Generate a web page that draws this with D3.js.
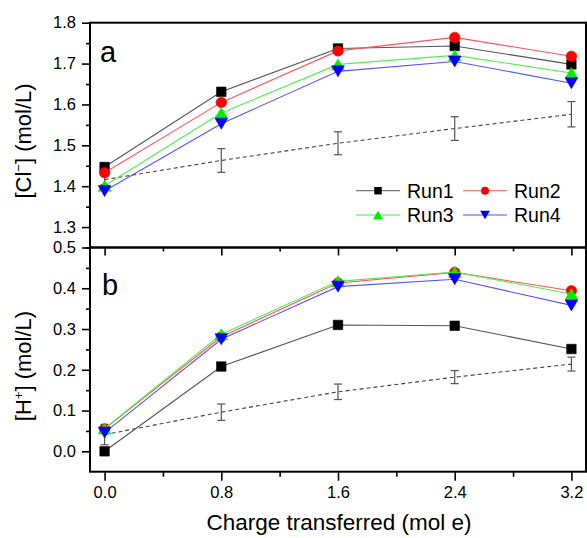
<!DOCTYPE html>
<html>
<head>
<meta charset="utf-8">
<script src="https://cdn.jsdelivr.net/npm/d3@7"></script>
<style>
  html, body { margin: 0; padding: 0; background: #fff; }
  svg { display: block; font-family: Arial, "Liberation Sans", sans-serif; }
</style>
</head>
<body>
<svg id="chart" width="587" height="538"></svg>
<script>
// Charge transferred (mol e) at each sampling point
const charge = [0, 0.8, 1.6, 2.4, 3.2];
const xTicks = [0, 0.8, 1.6, 2.4, 3.2];
const xMinorTicks = [0.4, 1.2, 2.0, 2.8];

// Panel a: chloride concentration (mol/L)
const clRun1 = [1.447, 1.631, 1.737, 1.743, 1.698];
const clRun2 = [1.433, 1.605, 1.731, 1.764, 1.718];
const clRun3 = [1.401, 1.579, 1.698, 1.720, 1.677];
const clRun4 = [1.388, 1.553, 1.681, 1.705, 1.652];
const clMean = [1.416, 1.463, 1.505, 1.541, 1.576];
const clErr  = [0.012, 0.029, 0.028, 0.029, 0.031];
const clTicks = [1.3, 1.4, 1.5, 1.6, 1.7, 1.8];
const clMinor = [1.25, 1.35, 1.45, 1.55, 1.65, 1.75];

// Panel b: proton concentration (mol/L)
const hRun1 = [0.000, 0.208, 0.310, 0.308, 0.251];
const hRun2 = [0.055, 0.281, 0.413, 0.439, 0.394];
const hRun3 = [0.056, 0.287, 0.417, 0.440, 0.386];
const hRun4 = [0.046, 0.275, 0.404, 0.422, 0.358];
const hMean = [0.041, 0.096, 0.146, 0.182, 0.214];
const hErr  = [0.025, 0.020, 0.019, 0.016, 0.017];
const hTicks = [0.0, 0.1, 0.2, 0.3, 0.4, 0.5];
const hMinor = [0.05, 0.15, 0.25, 0.35, 0.45];

const runNames = ["Run1", "Run2", "Run3", "Run4"];
const runColors = ["#000000", "#ff0000", "#00ee00", "#0000ff"];
const lineColors = ["#555555", "#ff5555", "#55ee55", "#5555ff"];
const legendLineColors = ["#777777", "#ff8080", "#88ee88", "#8888ff"];
const runShapes = ["square", "circle", "up", "down"];

const svg = d3.select("#chart");
const left = 90, right = 586, topA = 22.7, mid = 247.5, bottom = 471.7;

const x = d3.scaleLinear().domain([-0.1, 3.3]).range([left, right]);
const yA = d3.scaleLinear().domain([1.25, 1.8]).range([mid, topA]);
const yB = d3.scaleLinear().domain([-0.05, 0.5]).range([bottom, mid]);

function markerPath(shape, s) {
  if (shape === "square") return d3.symbol(d3.symbolSquare, s * s)();
  if (shape === "circle") return d3.symbol(d3.symbolCircle, Math.PI * (s / 2) * (s / 2))();
  const w = s * 1.15, h = s * 1.0;
  if (shape === "up") return `M0,${-h / 2}L${w / 2},${h / 2}L${-w / 2},${h / 2}Z`;
  return `M0,${h / 2}L${w / 2},${-h / 2}L${-w / 2},${-h / 2}Z`;
}
const markerSize = { square: 9.5, circle: 10.5, up: 11, down: 11 };

function drawPanel(y, runs, mean, err) {
  const g = svg.append("g");
  const line = d3.line().x((d, i) => x(charge[i])).y(d => y(d));

  // averaged trend with error bars
  g.append("path").datum(mean).attr("d", line)
    .attr("fill", "none").attr("stroke", "#444").attr("stroke-width", 1.1)
    .attr("stroke-dasharray", "4,3");
  const eb = g.append("g").attr("stroke", "#555").attr("stroke-width", 1.2).attr("fill", "none");
  mean.forEach((m, i) => {
    const cx = x(charge[i]);
    const y0 = y(m - err[i]), y1 = y(m + err[i]);
    eb.append("line").attr("x1", cx).attr("x2", cx).attr("y1", y0).attr("y2", y1);
    eb.append("line").attr("x1", cx - 4).attr("x2", cx + 4).attr("y1", y0).attr("y2", y0);
    eb.append("line").attr("x1", cx - 4).attr("x2", cx + 4).attr("y1", y1).attr("y2", y1);
  });

  runs.forEach((vals, k) => {
    g.append("path").datum(vals).attr("d", line)
      .attr("fill", "none").attr("stroke", lineColors[k]).attr("stroke-width", 1.1);
    g.selectAll(null).data(vals).enter().append("path")
      .attr("d", markerPath(runShapes[k], markerSize[runShapes[k]]))
      .attr("transform", (d, i) => `translate(${x(charge[i])},${y(d)})`)
      .attr("fill", runColors[k])
      .attr("stroke", runColors[k]).attr("stroke-width", 0.6);
  });
}

drawPanel(yA, [clRun1, clRun2, clRun3, clRun4], clMean, clErr);
drawPanel(yB, [hRun1, hRun2, hRun3, hRun4], hMean, hErr);

// Axes
function styleAxis(g) {
  g.selectAll("path.domain").remove();
  g.selectAll("line").attr("stroke", "#000").attr("stroke-width", 1.6);
  g.selectAll("text").attr("font-size", 16.5).attr("fill", "#000")
    .attr("font-family", "Arial, 'Liberation Sans', sans-serif");
}

svg.append("g").attr("transform", `translate(${left},0)`)
  .call(d3.axisLeft(yA).tickValues(clTicks).tickFormat(d3.format(".1f")).tickSize(8).tickPadding(6))
  .call(styleAxis);
svg.append("g").attr("transform", `translate(${left},0)`)
  .call(d3.axisLeft(yA).tickValues(clMinor).tickFormat("").tickSize(4))
  .call(styleAxis);
svg.append("g").attr("transform", `translate(${left},0)`)
  .call(d3.axisLeft(yB).tickValues(hTicks).tickFormat(d3.format(".1f")).tickSize(8).tickPadding(6))
  .call(styleAxis);
svg.append("g").attr("transform", `translate(${left},0)`)
  .call(d3.axisLeft(yB).tickValues(hMinor).tickFormat("").tickSize(4))
  .call(styleAxis);

svg.append("g").attr("transform", `translate(0,${bottom})`)
  .call(d3.axisBottom(x).tickValues(xTicks).tickFormat(d3.format(".1f")).tickSize(9).tickPadding(6))
  .call(styleAxis);
svg.append("g").attr("transform", `translate(0,${bottom})`)
  .call(d3.axisBottom(x).tickValues(xMinorTicks).tickFormat("").tickSize(5))
  .call(styleAxis);
// inward ticks on the top edge of panel b
svg.append("g").attr("transform", `translate(0,${mid})`)
  .call(d3.axisBottom(x).tickValues(xTicks).tickFormat("").tickSize(8))
  .call(styleAxis);
svg.append("g").attr("transform", `translate(0,${mid})`)
  .call(d3.axisBottom(x).tickValues(xMinorTicks).tickFormat("").tickSize(4))
  .call(styleAxis);

// frames
const frame = svg.append("g").attr("fill", "none").attr("stroke", "#000").attr("stroke-width", 2);
frame.append("rect").attr("x", left).attr("y", topA).attr("width", right - left).attr("height", mid - topA);
frame.append("rect").attr("x", left).attr("y", mid).attr("width", right - left).attr("height", bottom - mid);

// panel letters
svg.append("text").attr("x", 100).attr("y", 62).attr("font-size", 29).text("a");
svg.append("text").attr("x", 102).attr("y", 295).attr("font-size", 29).text("b");

// axis titles
svg.append("text").attr("x", 339).attr("y", 530)
  .attr("text-anchor", "middle").attr("font-size", 22.5)
  .text("Charge transferred (mol e)");

function yTitle(cx, cy, sym, sup) {
  const t = svg.append("text").attr("transform", `translate(${cx},${cy}) rotate(-90)`)
    .attr("text-anchor", "middle").attr("font-size", 22);
  t.append("tspan").text("[" + sym);
  t.append("tspan").attr("dy", -8).attr("font-size", 13).text(sup);
  t.append("tspan").attr("dy", 8).text("] (mol/L)");
}
yTitle(31, 141, "Cl", "\u2212");
yTitle(31, 366, "H", "+");

// legend
const legendItems = [
  { k: 0, lx: 356, ly: 190.7 },
  { k: 1, lx: 463, ly: 190.7 },
  { k: 2, lx: 356, ly: 215 },
  { k: 3, lx: 463, ly: 215 }
];
const legendMarkerSize = { square: 7.5, circle: 8, up: 8.5, down: 8.5 };
const lg = svg.append("g");
legendItems.forEach(it => {
  const k = it.k;
  lg.append("line").attr("x1", it.lx).attr("x2", it.lx + 44).attr("y1", it.ly).attr("y2", it.ly)
    .attr("stroke", legendLineColors[k]).attr("stroke-width", 1.3);
  lg.append("path").attr("d", markerPath(runShapes[k], legendMarkerSize[runShapes[k]]))
    .attr("transform", `translate(${it.lx + 22},${it.ly})`)
    .attr("fill", runColors[k]);
  lg.append("text").attr("x", it.lx + 51).attr("y", it.ly + 7).attr("font-size", 19.5)
    .text(runNames[k]);
});
</script>
</body>
</html>
